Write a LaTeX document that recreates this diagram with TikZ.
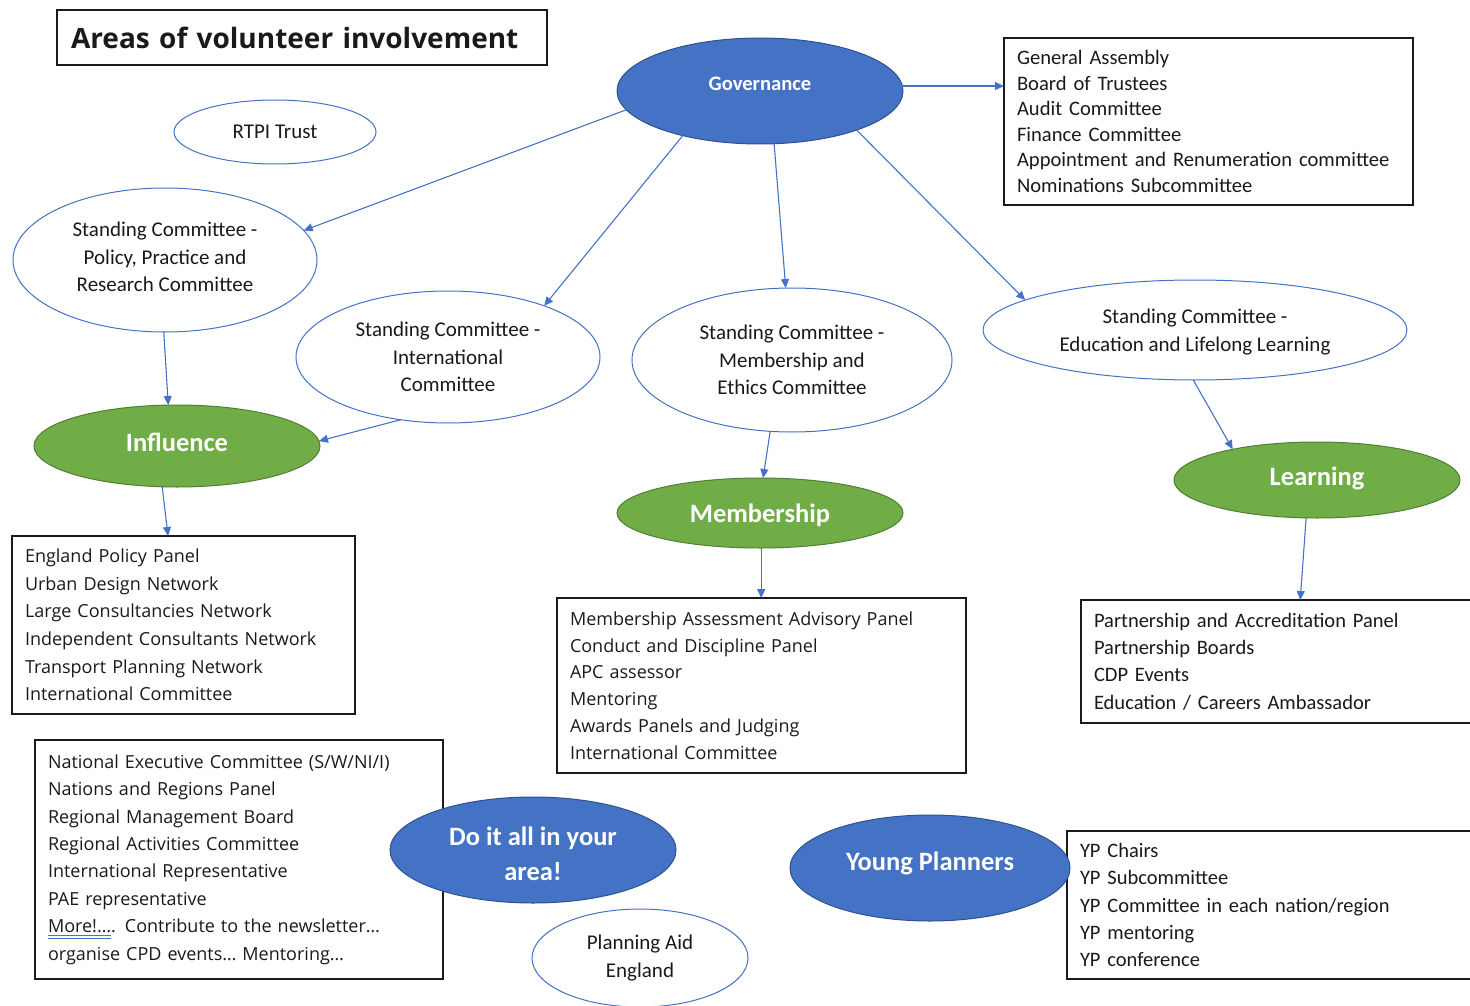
\documentclass[tikz,border=0pt]{standalone}
\usepackage{fontspec}
\setmainfont{Open Sans}
\newfontfamily\calfont{Carlito}
\newfontfamily\segfont{Open Sans}
\usetikzlibrary{shapes.geometric,arrows.meta,calc}
\definecolor{obl}{HTML}{4472C4}
\definecolor{obldark}{HTML}{2F528F}
\definecolor{ogr}{HTML}{70AD47}
\definecolor{ogrdark}{HTML}{507E32}
\definecolor{txt}{HTML}{1A1A1A}
\definecolor{ulblue}{HTML}{4472C4}
\newcommand\dblul[1]{\leavevmode\setbox0\hbox{#1}\rlap{\textcolor{ulblue}{\rule[-3.5pt]{\wd0}{0.8pt}}}\rlap{\textcolor{ulblue}{\rule[-6pt]{\wd0}{0.8pt}}}\box0}
\newcommand\shiftup[2]{\raisebox{#1}[\height][\depth]{#2}}
\tikzset{
  wov/.style={ellipse, draw=obl, line width=1pt, fill=white, inner sep=0pt, outer sep=0pt, align=center, text=txt, font=\calfont\fontsize{21}{27.5}\selectfont},
  bov/.style={ellipse, draw=obldark, line width=1pt, fill=obl, text=white, inner sep=0pt, outer sep=0pt, align=center, font=\calfont\bfseries\fontsize{26.5}{35}\selectfont},
  gel/.style={ellipse, draw=ogrdark, line width=1pt, fill=ogr, text=white, inner sep=0pt, outer sep=0pt, align=center, font=\calfont\bfseries\fontsize{26.5}{35}\selectfont},
  lbox/.style={draw=txt, line width=1.2pt, anchor=north west, align=left, inner xsep=13pt, inner ysep=0pt, outer sep=0pt, text=txt},
  segtxt/.style={font=\segfont\fontsize{18}{27.4}\selectfont},
  caltxt/.style={font=\calfont\fontsize{20.5}{27.4}\selectfont},
  arr/.style={draw=obl, line width=1.1pt, -{Triangle[length=9pt,width=8pt]}}
}
\begin{document}
\begin{tikzpicture}[x=1pt,y=-1pt]
\useasboundingbox (0,0) rectangle (1470,1006);
\clip (0,0) rectangle (1470,1006);
% title
\node[lbox, inner xsep=14pt, minimum width=490pt, minimum height=55pt, text width=462pt, font=\segfont\bfseries\fontsize{28}{34}\selectfont] (title) at (57,10) {Areas of volunteer involvement};
% boxes
\node[lbox, minimum width=409pt, minimum height=167pt, text width=383pt, font=\calfont\fontsize{20.6}{25.6}\selectfont] (govbox) at (1004,38)
 {General Assembly\\Board of Trustees\\Audit Committee\\Finance Committee\\Appointment and Renumeration committee\\Nominations Subcommittee};
\node[lbox, minimum width=343pt, minimum height=178pt, text width=317pt, font=\segfont\fontsize{18}{27.6}\selectfont] (inflbox) at (12,536)
 {England Policy Panel\\Urban Design Network\\Large Consultancies Network\\Independent Consultants Network\\Transport Planning Network\\International Committee};
\node[lbox, minimum width=409pt, minimum height=175pt, text width=383pt, font=\segfont\fontsize{18}{26.8}\selectfont] (membbox) at (557,598)
 {Membership Assessment Advisory Panel\\Conduct and Discipline Panel\\APC assessor\\Mentoring\\Awards Panels and Judging\\International Committee};
\node[lbox, caltxt, minimum width=400pt, minimum height=123pt, text width=374pt] (learnbox) at (1081,600)
 {Partnership and Accreditation Panel\\Partnership Boards\\CDP Events\\Education / Careers Ambassador};
\node[lbox, segtxt, minimum width=408pt, minimum height=239pt, text width=382pt] (regbox) at (35,740)
 {National Executive Committee (S/W/NI/I)\\Nations and Regions Panel\\Regional Management Board\\Regional Activities Committee\\International Representative\\PAE representative\\\dblul{More!…}. Contribute to the newsletter…\\organise CPD events… Mentoring…};
\node[lbox, caltxt, minimum width=411pt, minimum height=148pt, text width=385pt] (ypbox) at (1067,831)
 {YP Chairs\\YP Subcommittee\\YP Committee in each nation/region\\YP mentoring\\YP conference};
% ellipses
\node[wov, minimum width=202pt, minimum height=64pt] (rtpi) at (275,132) {RTPI Trust};
\node[bov, font=\calfont\bfseries\fontsize{20.6}{24}\selectfont, minimum width=286pt, minimum height=106pt] (gov) at (760,91) {\shiftup{7pt}{Governance}};
\node[wov, minimum width=304pt, minimum height=144pt] (pol) at (165,260) {\shiftup{1.5pt}{\begin{tabular}{@{}c@{}}Standing Committee -\\Policy, Practice and\\Research Committee\end{tabular}}};
\node[wov, minimum width=304pt, minimum height=132pt] (intl) at (448,357) {Standing Committee -\\International\\Committee};
\node[wov, minimum width=320pt, minimum height=144pt] (ethics) at (792,360) {Standing Committee -\\Membership and\\Ethics Committee};
\node[wov, minimum width=424pt, minimum height=100pt] (edu) at (1195,330) {\shiftup{-2pt}{\begin{tabular}{@{}c@{}}Standing Committee -\\Education and Lifelong Learning\end{tabular}}};
\node[gel, minimum width=286pt, minimum height=82pt] (infl) at (177,446) {\shiftup{4pt}{Influence}};
\node[gel, minimum width=286pt, minimum height=70pt] (memb) at (760,513) {\shiftup{-2.5pt}{Membership}};
\node[gel, minimum width=286pt, minimum height=76pt] (learn) at (1317,480) {\shiftup{1.5pt}{Learning}};
\node[bov, minimum width=286pt, minimum height=106pt] (doit) at (533,850) {\shiftup{-5.5pt}{\begin{tabular}{@{}c@{}}Do it all in your\\area!\end{tabular}}};
\node[wov, minimum width=216pt, minimum height=98pt] (paid) at (640,958) {Planning Aid\\England};
\node[bov, minimum width=280pt, minimum height=106pt] (yp) at (930,868) {\shiftup{5pt}{Young Planners}};
% connector end points on boxes
\coordinate (ibt) at ($(inflbox.north west)!0.455!(inflbox.north east)$);
\coordinate (lbt) at ($(learnbox.north west)!0.548!(learnbox.north east)$);
% arrows
\draw[arr] (gov.2) -- (gov.2 -| govbox.west);
\draw[arr] (gov.188) -- (pol.12);
\draw[arr] (gov.210) -- (intl.28);
\draw[arr] (gov.285) -- (ethics.95);
\draw[arr] (gov.338) -- (edu.170);
\draw[arr] (pol.269) -- (infl.102);
\draw[arr] (intl.233) -- (infl.2);
\draw[arr] (ethics.253) -- (memb.85);
\draw[arr] (edu.268) -- (learn.160);
\draw[arr] (infl.250) -- (ibt);
\draw[arr] (memb.272) -- (memb.272 |- membbox.north);
\draw[arr] (learn.254) -- (lbt);
\end{tikzpicture}
\end{document}
